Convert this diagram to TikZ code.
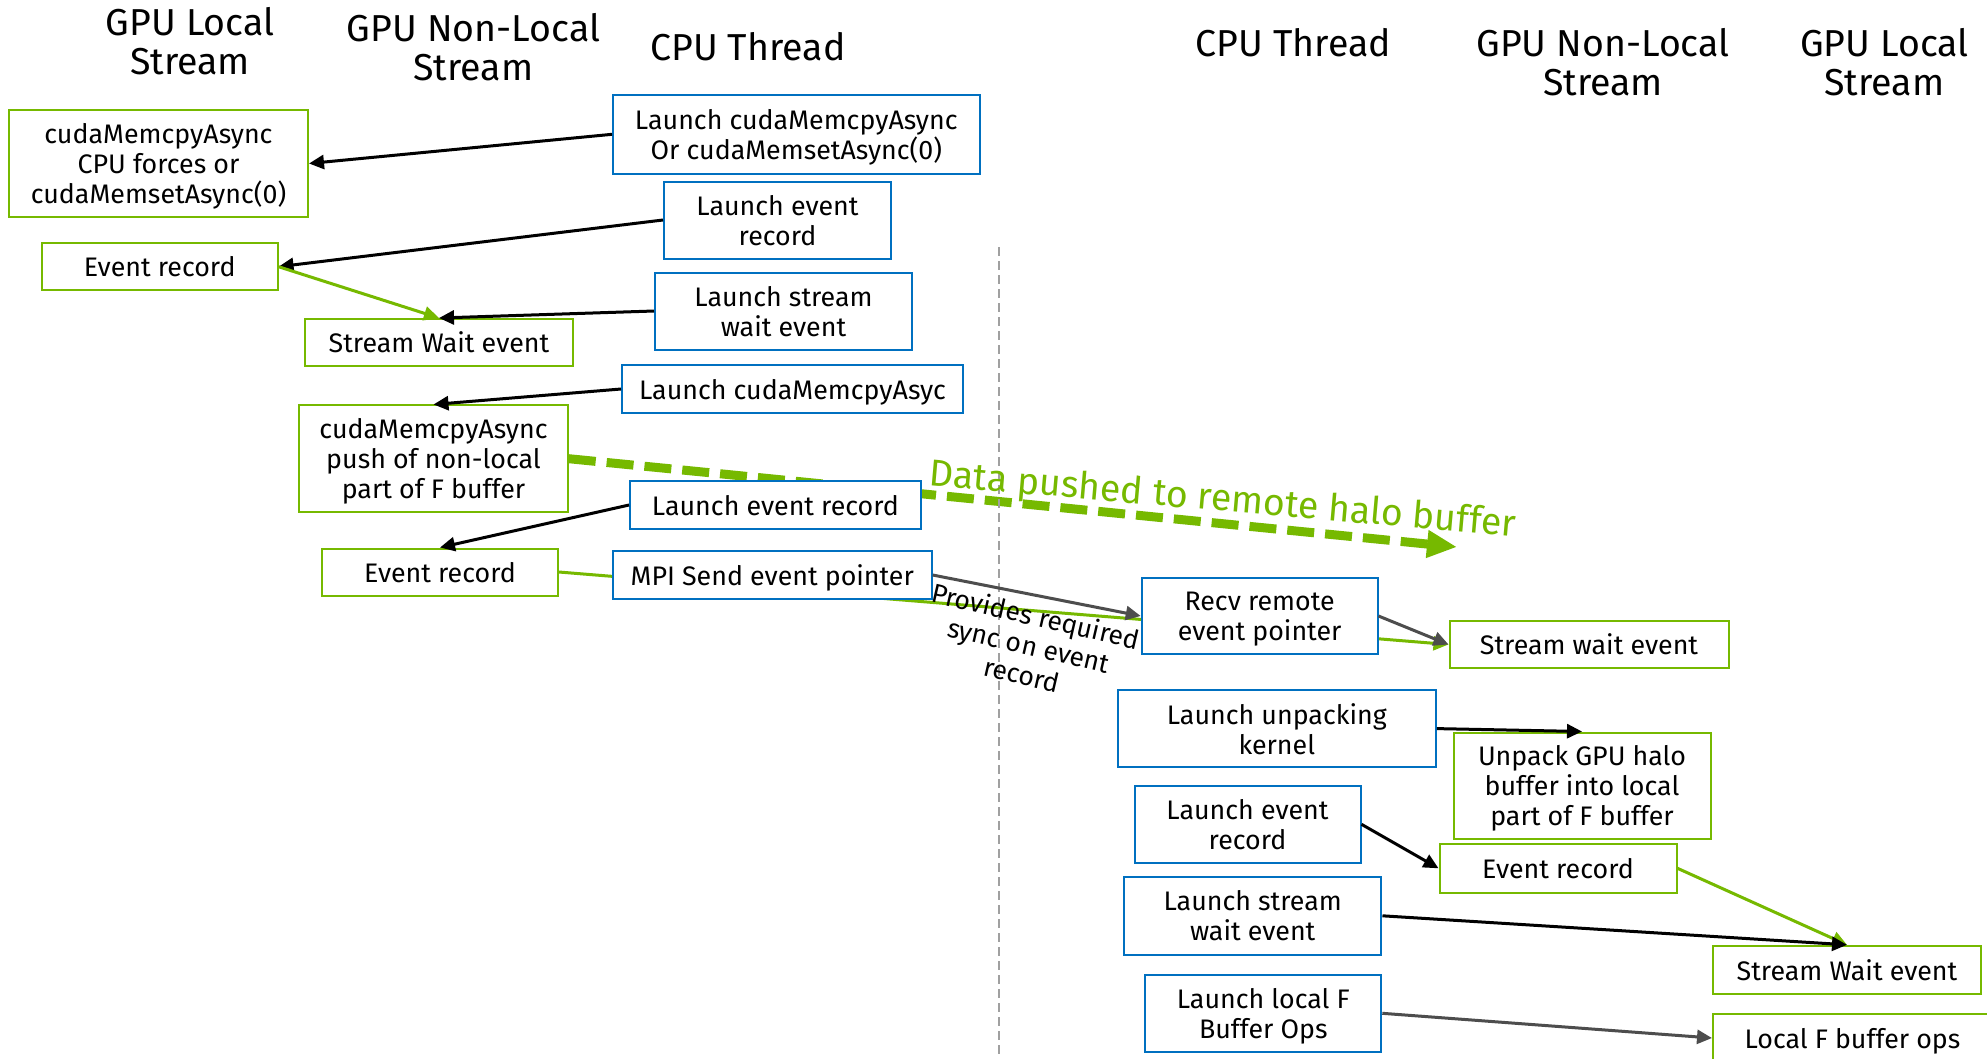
\documentclass[tikz,border=0pt]{standalone}
\usepackage{fontspec}
\setmainfont{Fira Sans}
\usetikzlibrary{arrows.meta}
\definecolor{nvgreen}{HTML}{76B900}
\definecolor{boxblue}{HTML}{0070C0}
\definecolor{arrowgray}{HTML}{4D4D4D}
\definecolor{divgray}{HTML}{A0A0A0}
\pgfdeclarelayer{paper}
\pgfdeclarelayer{under}
\pgfsetlayers{paper,under,main}

\begin{document}
\begin{tikzpicture}[x=1pt,y=-1pt,
  boxtext/.style={font=\fontsize{26.8}{30}\selectfont, align=center, inner sep=0pt,
                  text depth=0pt, fill=white, line width=2pt},
  cpu/.style={boxtext, draw=boxblue},
  gpu/.style={boxtext, draw=nvgreen},
  sz/.style 2 args={minimum width=#1pt, minimum height=#2pt},
  hdr/.style={font=\fontsize{37.5}{39}\selectfont, align=center, inner sep=0pt},
  tip/.style={-{Triangle[length=15pt,width=14pt]}},
  call/.style={line width=3pt, black, tip},
  dep/.style={line width=3pt, nvgreen, tip},
  msg/.style={line width=3pt, arrowgray, tip},
  push/.style={line width=9pt, nvgreen, dash pattern=on 27pt off 11pt,
               -{Triangle[length=30pt,width=26pt]}},
  divider/.style={line width=2pt, divgray, dash pattern=on 9pt off 5pt}
]
\begin{pgfonlayer}{paper}
  \fill[white] (0,0) rectangle (1987,1058);
\end{pgfonlayer}
\useasboundingbox (0,0) rectangle (1987,1058);

% column headings, sending side
\node[hdr] (hLocalA)    at (190,41)   {GPU Local\\Stream};
\node[hdr] (hNonLocalA) at (473.5,47) {GPU Non-Local\\Stream};
\node[hdr] (hCpuA)      at (748,47)   {CPU Thread};
% column headings, receiving side
\node[hdr] (hCpuB)      at (1293.5,43) {CPU Thread};
\node[hdr] (hNonLocalB) at (1603,62)   {GPU Non-Local\\Stream};
\node[hdr] (hLocalB)    at (1884.5,62) {GPU Local\\Stream};

% split between the two ranks
\coordinate (divTop) at (998.5,247);
\coordinate (divBot) at (998.5,1058);
\draw[divider] (divTop) -- (divBot);

% sending side
\node[gpu, sz={299}{106.5}] (L1) at (158.5,163.5) {cudaMemcpyAsync\\CPU forces or\\cudaMemsetAsync(0)};
\node[cpu, sz={366.5}{78.6}] (C1) at (796.3,134.3) {Launch cudaMemcpyAsync\\Or cudaMemsetAsync(0)};
\node[cpu, sz={227}{77}] (C2) at (777.5,220) {Launch event\\record};
\node[gpu, sz={235.7}{47}] (L2) at (159.7,266.7) {Event record};
\node[cpu, sz={257}{77}] (C3) at (783.5,311) {Launch stream\\wait event};
\node[gpu, sz={268}{47}] (N1) at (439,342.5) {Stream Wait event};
\node[cpu, sz={341}{48}] (C4) at (792.5,389) {Launch cudaMemcpyAsyc};
\node[gpu, sz={268.6}{106.5}] (N2) at (433.5,458.7) {cudaMemcpyAsync\\push of non-local\\part of F buffer};
\node[cpu, sz={290.7}{47.5}] (C5) at (775.4,505) {Launch event record};
\node[gpu, sz={235.7}{47}] (N3) at (440,572) {Event record};
\node[cpu, sz={318.7}{47.5}] (C6) at (772.3,575) {MPI Send event pointer};

% receiving side
\node[cpu, sz={235.8}{76}] (R1) at (1259.6,616) {Recv remote\\event pointer};
\node[gpu, sz={279}{47}] (RN1) at (1589,644.5) {Stream wait event};
\node[cpu, sz={318}{76.5}] (R2) at (1276.8,728.6) {Launch unpacking\\kernel};
\node[gpu, sz={257}{106}] (RN2) at (1582,785.5) {Unpack GPU halo\\buffer into local\\part of F buffer};
\node[cpu, sz={226}{77.5}] (R3) at (1247.5,824.3) {Launch event\\record};
\node[gpu, sz={237}{48.5}] (RN3) at (1558,868.3) {Event record};
\node[cpu, sz={257.5}{77.5}] (R4) at (1252.7,915.8) {Launch stream\\wait event};
\node[gpu, sz={268}{48}] (RL1) at (1847,969.8) {Stream Wait event};
\node[cpu, sz={236}{77}] (R5) at (1263.3,1013.3) {Launch local F\\Buffer Ops};
\node[gpu, sz={279}{48}] (RL2) at (1852.5,1038) {Local F buffer ops};

% lines that run behind the boxes
\coordinate (haloEnd) at (1457,547);
\begin{pgfonlayer}{under}
  \draw[push] (N2.east) -- (haloEnd);
  \draw[dep] (N3.east) -- (RN1.west);
\end{pgfonlayer}
\node[font=\fontsize{37.5}{40}\selectfont, text=nvgreen, inner sep=0pt,
      anchor=base, rotate=-5] (haloLabel) at (1222,511) {Data pushed to remote halo buffer};

% sending side launches
\draw[call] (C1.west) -- (L1.east);
\draw[call] (C2.west) -- (L2.east);
\draw[dep]  (L2.east) -- (N1.north);
\draw[call] (C3.west) -- (N1.north);
\draw[call] (C4.west) -- (N2.north);
\draw[call] (C5.west) -- (N3.north);

% cross-rank signal
\draw[msg] (C6.east) -- (R1.west);
\node[font=\fontsize{26.5}{30}\selectfont, align=center, inner sep=0pt, rotate=-13]
  (syncLabel) at (1029,645) {Provides required\\sync on event\\record};

% receiving side launches
\draw[msg]  (R1.east) -- (RN1.west);
\draw[call] (R2.east) -- (RN2.north);
\draw[call] (R3.east) -- (RN3.west);
\draw[dep]  (RN3.east) -- (RL1.north);
\draw[call] (R4.east) -- (RL1.north);
\draw[msg]  (R5.east) -- (RL2.west);
\end{tikzpicture}
\end{document}
